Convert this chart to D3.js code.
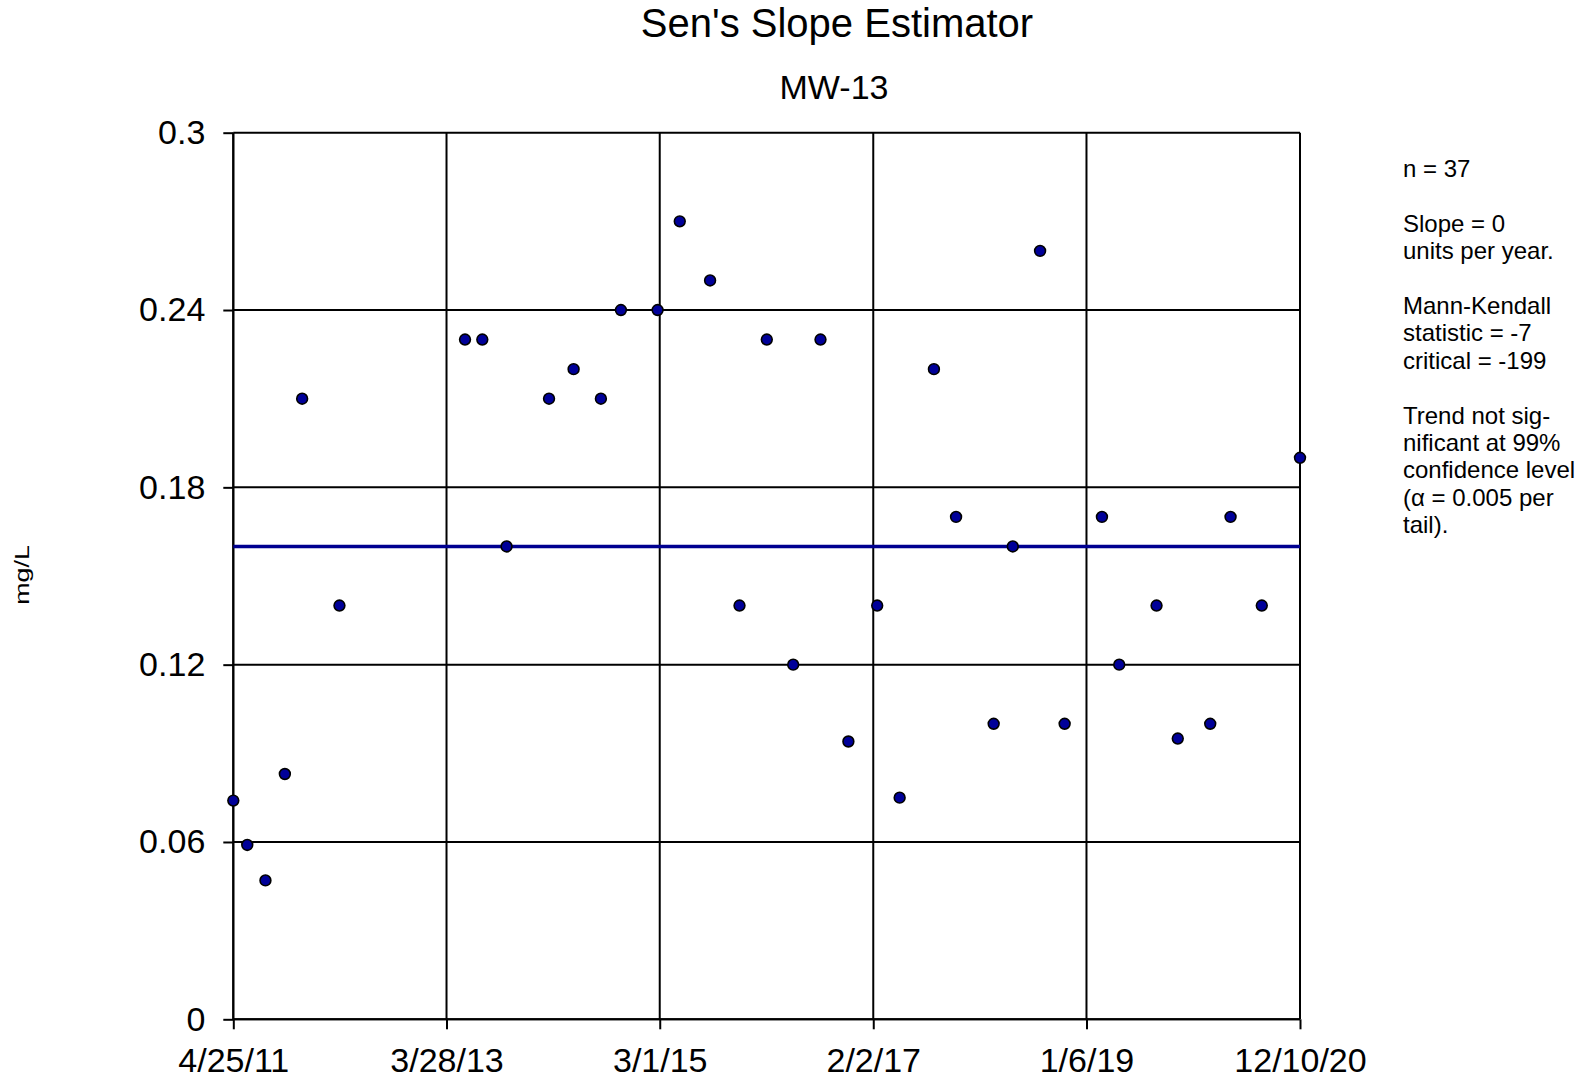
<!DOCTYPE html>
<html>
<head>
<meta charset="utf-8">
<script src="https://cdn.jsdelivr.net/npm/d3@7"></script>
<style>
  html, body { margin: 0; padding: 0; background: #fff; }
  svg { display: block; font-family: "Liberation Sans", Arial, sans-serif; }
</style>
</head>
<body>
<svg id="chart" width="1589" height="1081"></svg>
<script>
// ---- data ----
const dates = [
  "2011-04-25","2011-06-10","2011-08-09","2011-10-12","2011-12-08","2012-04-09",
  "2013-05-28","2013-07-24","2013-10-12","2014-03-01","2014-05-21","2014-08-19",
  "2014-10-24","2015-02-22","2015-05-06","2015-08-14","2015-11-19","2016-02-17",
  "2016-05-14","2016-08-12","2016-11-12","2017-02-15","2017-04-30","2017-08-21",
  "2017-11-02","2018-03-06","2018-05-08","2018-08-06","2018-10-26","2019-02-26",
  "2019-04-24","2019-08-25","2019-11-03","2020-02-18","2020-04-25","2020-08-06",
  "2020-12-10"
];
const values = [
  0.074, 0.059, 0.047, 0.083, 0.21, 0.14,
  0.23, 0.23, 0.16, 0.21, 0.22, 0.21,
  0.24, 0.24, 0.27, 0.25, 0.14, 0.23,
  0.12, 0.23, 0.094, 0.14, 0.075, 0.22,
  0.17, 0.10, 0.16, 0.26, 0.10, 0.17,
  0.12, 0.14, 0.095, 0.10, 0.17, 0.14,
  0.19
];
const xTickDates = ["2011-04-25","2013-03-28","2015-03-01","2017-02-02","2019-01-06","2020-12-10"];
const xTickLabels = ["4/25/11","3/28/13","3/1/15","2/2/17","1/6/19","12/10/20"];
const yTicks = [0, 0.06, 0.12, 0.18, 0.24, 0.3];
const yTickLabels = ["0","0.06","0.12","0.18","0.24","0.3"];
const senLine = { start: "2011-04-25", end: "2020-12-10", value: 0.16 };
const titleText = "Sen's Slope Estimator";
const subtitleText = "MW-13";
const yAxisLabel = "mg/L";
const statsLines = [
  "n = 37", "",
  "Slope = 0", "units per year.", "",
  "Mann-Kendall", "statistic = -7", "critical = -199", "",
  "Trend not sig-", "nificant at 99%", "confidence level", "(\u03B1 = 0.005 per", "tail)."
];

// ---- layout ----
const parse = d3.utcParse("%Y-%m-%d");
const svg = d3.select("#chart");
const L = 233.3, R = 1300, T = 132.7, B = 1019.3;

const x = d3.scaleUtc()
  .domain([parse(xTickDates[0]), parse(xTickDates[xTickDates.length - 1])])
  .range([L, R]);
const y = d3.scaleLinear().domain([0, 0.3]).range([B, T]);

// gridlines
const grid = svg.append("g");
grid.selectAll("line.h").data(yTicks).join("line")
  .attr("x1", L).attr("x2", R)
  .attr("y1", d => y(d)).attr("y2", d => y(d))
  .attr("stroke", "#000").attr("stroke-width", 2);
grid.selectAll("line.v").data(xTickDates).join("line")
  .attr("x1", d => x(parse(d))).attr("x2", d => x(parse(d)))
  .attr("y1", T).attr("y2", B)
  .attr("stroke", "#000").attr("stroke-width", 2);

// y axis
const yAxis = d3.axisLeft(y).tickValues(yTicks)
  .tickFormat((d, i) => yTickLabels[i]).tickSize(10).tickPadding(18);
const gy = svg.append("g").attr("transform", `translate(${L},0)`).call(yAxis);
gy.select(".domain").attr("stroke", "#000").attr("stroke-width", 2).attr("d", `M0,${T}V${B}`);
gy.selectAll(".tick line").attr("stroke", "#000").attr("stroke-width", 2);
gy.selectAll(".tick text").attr("font-size", 34).attr("fill", "#000")
  .attr("font-family", "Liberation Sans, Arial, sans-serif");

// x axis
const xAxis = d3.axisBottom(x).tickValues(xTickDates.map(parse))
  .tickFormat((d, i) => xTickLabels[i]).tickSize(10).tickPadding(19);
const gx = svg.append("g").attr("transform", `translate(0,${B})`).call(xAxis);
gx.select(".domain").attr("stroke", "#000").attr("stroke-width", 2).attr("d", `M${L},0H${R}`);
gx.selectAll(".tick line").attr("stroke", "#000").attr("stroke-width", 2);
gx.selectAll(".tick text").attr("font-size", 34).attr("fill", "#000")
  .attr("font-family", "Liberation Sans, Arial, sans-serif");

// Sen's slope line
svg.append("line")
  .attr("x1", x(parse(senLine.start))).attr("x2", x(parse(senLine.end)))
  .attr("y1", y(senLine.value)).attr("y2", y(senLine.value))
  .attr("stroke", "#000090").attr("stroke-width", 3.5);

// points
svg.append("g").selectAll("circle").data(dates.map((d, i) => ({ d: parse(d), v: values[i] })))
  .join("circle")
  .attr("cx", p => x(p.d)).attr("cy", p => y(p.v)).attr("r", 5.4)
  .attr("fill", "#000099").attr("stroke", "#000").attr("stroke-width", 1.6);

// titles
svg.append("text").attr("x", 837).attr("y", 37).attr("text-anchor", "middle")
  .attr("font-size", 40).attr("fill", "#000").text(titleText);
svg.append("text").attr("x", 834).attr("y", 99).attr("text-anchor", "middle")
  .attr("font-size", 34).attr("fill", "#000").text(subtitleText);

// y label
svg.append("text").attr("transform", "translate(28.6,575) rotate(-90) scale(1.28,1)")
  .attr("text-anchor", "middle").attr("font-size", 21).attr("fill", "#000").text(yAxisLabel);

// stats text
svg.append("g").selectAll("text").data(statsLines).join("text")
  .attr("x", 1403).attr("y", (d, i) => 177 + i * 27.4)
  .attr("font-size", 24).attr("fill", "#000").text(d => d);
</script>
</body>
</html>
